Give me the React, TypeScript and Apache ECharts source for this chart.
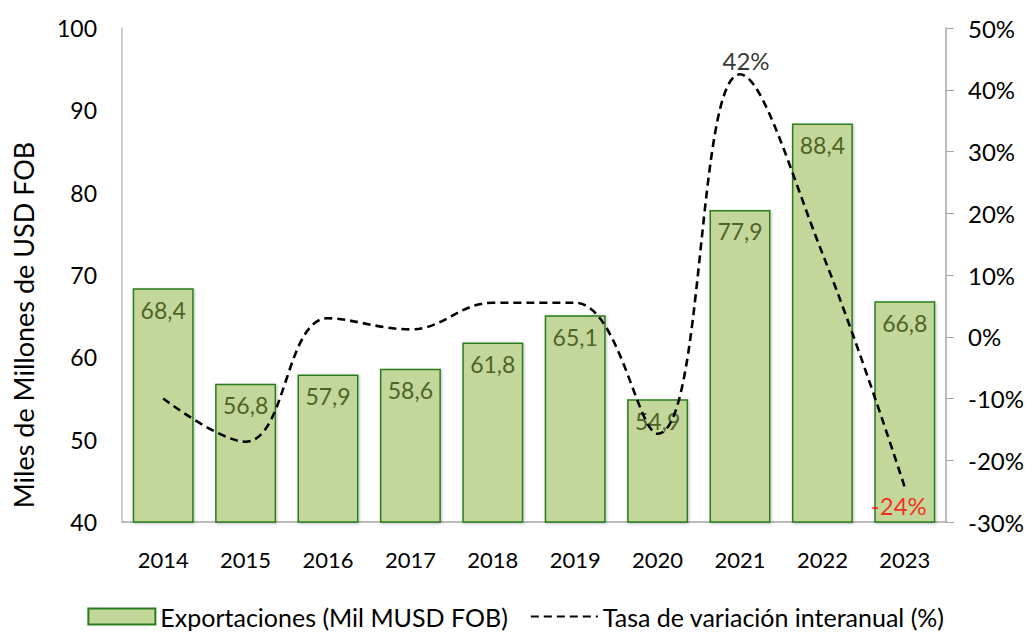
import React, { useEffect, useRef } from "react";
import * as echarts from "echarts";

const years = ["2014", "2015", "2016", "2017", "2018", "2019", "2020", "2021", "2022", "2023"];
const exportaciones = [68.4, 56.8, 57.9, 58.6, 61.8, 65.1, 54.9, 77.9, 88.4, 66.8];
const variacion = [-10.0, -17.0, 3.0, 1.2, 5.5, 5.5, -15.7, 42.5, 13.5, -24.4];
const labeledLine: Record<number, { text: string; color: string; pos: string }> = {
  7: { text: "42%", color: "#000000", pos: "top" },
  9: { text: "-24%", color: "#ff0000", pos: "bottom" },
};

const FONT = "Lato, 'Open Sans', sans-serif";

export default function App() {
  const ref = useRef<HTMLDivElement>(null);
  useEffect(() => {
    if (!ref.current) return;
    const chart = echarts.init(ref.current, null, { renderer: "svg" });
    chart.setOption({
      animation: false,
      textStyle: { fontFamily: FONT },
      grid: { left: 122, right: 86, top: 28, bottom: 110, containLabel: false },
      graphic: [
        {
          type: "text",
          x: 23,
          y: 325,
          rotation: Math.PI / 2,
          style: {
            text: "Miles de Millones de USD FOB",
            fontSize: 27,
            fontFamily: FONT,
            fill: "#000",
            align: "center",
            verticalAlign: "middle",
          },
        },
      ],
      legend: {
        top: 599,
        left: "center",
        itemGap: 22,
        itemWidth: 67,
        itemHeight: 16,
        textStyle: { fontSize: 25, color: "#000", fontFamily: FONT },
        data: [
          { name: "Exportaciones (Mil MUSD FOB)", icon: "rect" },
          {
            name: "Tasa de variación interanual (%)",
            itemStyle: { color: "rgba(0,0,0,0)", borderColor: "rgba(0,0,0,0)", borderWidth: 0, opacity: 0 },
          },
        ],
      },
      xAxis: {
        type: "category",
        data: years,
        axisLine: { onZero: false, lineStyle: { color: "#a6a6a6", width: 1.5 } },
        axisTick: { show: false },
        axisLabel: { fontSize: 22, color: "#000", margin: 26, fontFamily: FONT },
      },
      yAxis: [
        {
          type: "value",
          min: 40,
          max: 100,
          interval: 10,
          axisLine: { show: true, lineStyle: { color: "#bfbfbf", width: 1.5 } },
          axisTick: { show: false },
          splitLine: { show: false },
          axisLabel: { fontSize: 23, color: "#000", margin: 25, fontFamily: FONT },
        },
        {
          type: "value",
          min: -30,
          max: 50,
          interval: 10,
          position: "right",
          axisLine: { show: true, lineStyle: { color: "#a6a6a6", width: 1.5 } },
          axisTick: { show: true, inside: false, length: 8, lineStyle: { color: "#a6a6a6" } },
          splitLine: { show: false },
          axisLabel: { fontSize: 24, color: "#000", margin: 22, formatter: "{value}%", fontFamily: FONT },
        },
      ],
      series: [
        {
          name: "Exportaciones (Mil MUSD FOB)",
          type: "bar",
          data: exportaciones,
          barCategoryGap: "26%",
          itemStyle: {
            color: "#c4d79b",
            borderColor: "#2a7d1e",
            borderWidth: 1.5,
            shadowColor: "rgba(0,0,0,0.25)",
            shadowBlur: 3,
            shadowOffsetX: 1,
            shadowOffsetY: 1,
          },
          label: {
            show: true,
            position: "insideTop",
            distance: 10,
            fontSize: 23,
            color: "#4f6228",
            fontFamily: FONT,
            formatter: (p: any) => String(p.value).replace(".", ","),
          },
        },
        {
          name: "Tasa de variación interanual (%)",
          type: "line",
          yAxisIndex: 1,
          smooth: 0.4,
          symbol: "none",
          data: variacion,
          lineStyle: { color: "#000", width: 2.6, type: [8, 5] },
          itemStyle: { color: "#000" },
        },
        {
          name: "etiquetas",
          type: "scatter",
          yAxisIndex: 1,
          symbolSize: 0,
          silent: true,
          data: variacion.map((v, i) => {
            const l = labeledLine[i];
            if (!l) return "-";
            return {
              value: v,
              label: {
                show: true,
                position: l.pos,
                distance: l.pos === "top" ? 2 : 6,
                offset: l.pos === "top" ? [6, 0] : [-6, 0],
                color: l.color,
                fontSize: 24,
                fontFamily: FONT,
                formatter: l.text,
              },
            };
          }),
        },
      ],
    });
    return () => chart.dispose();
  }, []);
  return (
    <div
      ref={ref}
      style={{ position: "fixed", left: 0, top: 0, width: 1032, height: 632, background: "#fff" }}
    />
  );
}
